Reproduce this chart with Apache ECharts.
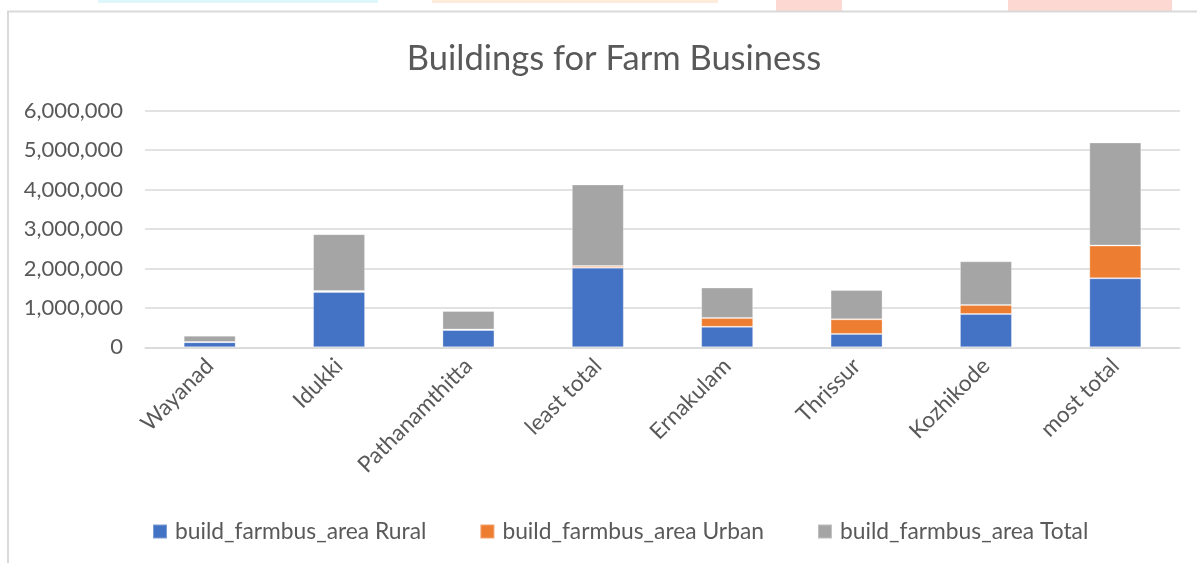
<!DOCTYPE html>
<html>
<head>
<meta charset="utf-8">
<script src="https://cdn.jsdelivr.net/npm/echarts@6/dist/echarts.min.js"></script>
<style>
html,body{margin:0;padding:0;background:#fff;}
#c{width:1197px;height:563px;}
</style>
</head>
<body>
<div id="c"></div>
<script>
const categories = ['Wayanad', 'Idukki', 'Pathanamthitta', 'least total', 'Ernakulam', 'Thrissur', 'Kozhikode', 'most total'];
const rural = [130000, 1400000, 440000, 2020000, 520000, 340000, 845000, 1750000];
const urban = [5000, 30000, 10000, 40000, 225000, 370000, 230000, 830000];
const total = [160000, 1440000, 470000, 2070000, 770000, 740000, 1105000, 2615000];
const seriesNames = ['build_farmbus_area Rural', 'build_farmbus_area Urban', 'build_farmbus_area Total'];
const yTicks = { min: 0, max: 6000000, interval: 1000000 };

const FONT = 'Lato, "Open Sans", sans-serif';
const TXT = '#595959';
const chart = echarts.init(document.getElementById('c'), null, { renderer: 'canvas' });

function mk(name, data, color) {
  return {
    name: name, type: 'bar', stack: 'all', data: data, barWidth: 52,
    itemStyle: { color: color, borderColor: 'rgba(255,255,255,0.3)', borderWidth: 1 },
    emphasis: { disabled: true }
  };
}

chart.setOption({
  animation: false,
  backgroundColor: '#ffffff',
  graphic: [
    { type: 'rect', shape: { x: 98, y: 0, width: 280, height: 3 }, style: { fill: '#dff6fb' }, silent: true },
    { type: 'rect', shape: { x: 432, y: 0, width: 286, height: 3 }, style: { fill: '#fdebdc' }, silent: true },
    { type: 'rect', shape: { x: 776, y: 0, width: 66, height: 11 }, style: { fill: '#fdd8d2' }, silent: true },
    { type: 'rect', shape: { x: 1008, y: 0, width: 164, height: 11 }, style: { fill: '#fdd8d2' }, silent: true },
    { type: 'rect', shape: { x: 8, y: 11.5, width: 1250, height: 650 }, style: { fill: 'none', stroke: '#d9d9d9', lineWidth: 2 }, silent: true }
  ],
  title: {
    text: 'Buildings for Farm Business',
    left: 609, top: 36, textAlign: 'center',
    textStyle: { fontFamily: FONT, fontSize: 34.5, fontWeight: 'normal', color: TXT }
  },
  legend: {
    data: seriesNames,
    left: 152, top: 520, padding: 0,
    itemWidth: 14, itemHeight: 14, itemGap: 53,
    icon: 'rect',
    textStyle: { fontFamily: FONT, fontSize: 22.8, color: TXT, padding: [0, 0, 0, 3] }
  },
  grid: { left: 145, right: 17, top: 110.7, bottom: 215.7, containLabel: false },
  xAxis: {
    type: 'category', data: categories,
    axisLine: { show: true, lineStyle: { color: '#d9d9d9', width: 1.5 } },
    axisTick: { show: false },
    axisLabel: { rotate: 45, interval: 0, margin: 15, fontFamily: FONT, fontSize: 22.5, color: TXT }
  },
  yAxis: {
    type: 'value', min: yTicks.min, max: yTicks.max, interval: yTicks.interval,
    axisLine: { show: false }, axisTick: { show: false },
    splitLine: { lineStyle: { color: '#d9d9d9', width: 1.5 } },
    axisLabel: {
      margin: 22, fontFamily: FONT, fontSize: 22, color: TXT,
      formatter: v => v.toLocaleString('en-US')
    }
  },
  series: [
    mk(seriesNames[0], rural, '#4472C4'),
    mk(seriesNames[1], urban, '#ED7D31'),
    mk(seriesNames[2], total, '#A5A5A5')
  ]
});
</script>
</body>
</html>
